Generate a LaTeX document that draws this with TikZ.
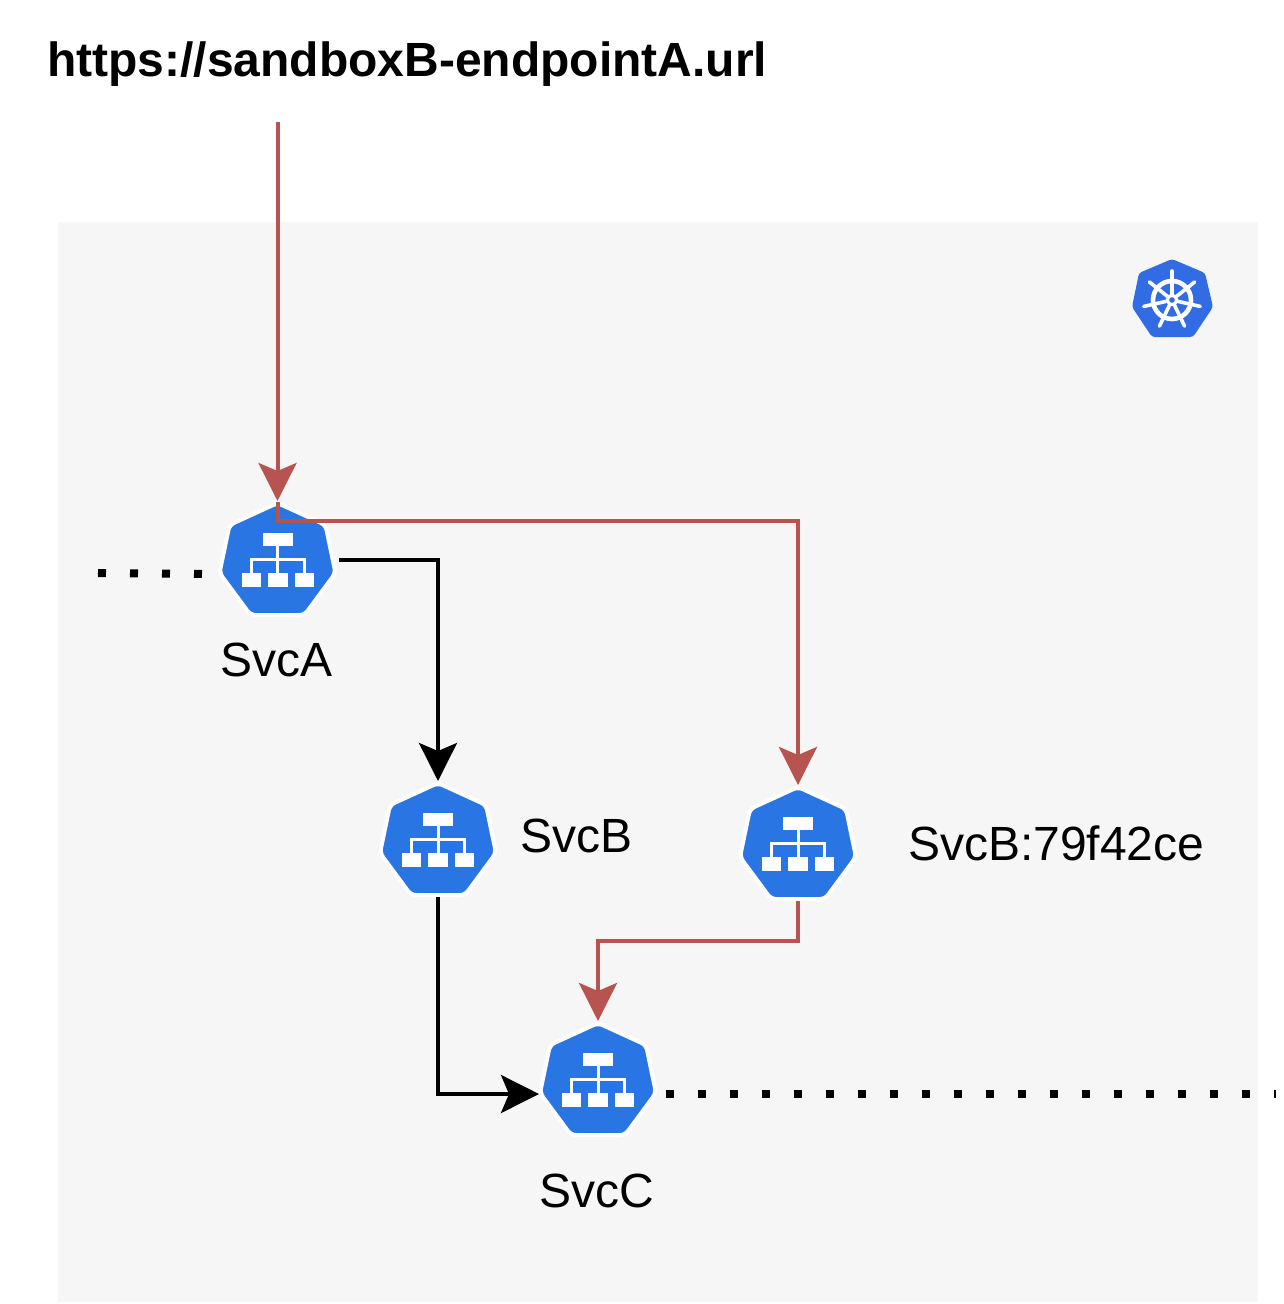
\documentclass[tikz,border=0pt]{standalone}
\usepackage{fontspec}
\setmainfont{Liberation Sans}
\usetikzlibrary{arrows.meta,calc}
\definecolor{svcblue}{HTML}{2A75E4}
\definecolor{kblue}{HTML}{326CE5}
\definecolor{redline}{HTML}{B85450}
\definecolor{panel}{HTML}{F6F6F6}
\tikzset{
  svcnode/.style={minimum width=114pt,minimum height=110pt,inner sep=0pt,outer sep=3pt},
  conn/.style={line width=4pt,-{Stealth[length=38pt,width=38pt,inset=8pt]},line join=miter},
  redconn/.style={conn,draw=redline,color=redline},
  blackconn/.style={conn,draw=black,color=black},
  dots/.style={line width=8pt,dash pattern=on 8pt off 24pt},
  lbl/.style={inner sep=0pt,anchor=base west,font=\fontsize{48}{58}\selectfont},
  lblc/.style={inner sep=0pt,anchor=base,font=\fontsize{48}{58}\selectfont},
}
% \svc{name}{center x}{top y}
\newcommand{\svc}[3]{%
  \begin{scope}[shift={(#2,#3)}]
    \filldraw[fill=svcblue,draw=white,line width=4pt,rounded corners=5pt]
      (0,-1) -- (48,21) -- (58,69) -- (27,111) -- (-27,111) -- (-58,69) -- (-48,21) -- cycle;
    \fill[white] (-15,29) rectangle (15,42);
    \fill[white] (-36,69) rectangle (-17,83);
    \fill[white] (-10,69) rectangle (10,83);
    \fill[white] (17,69) rectangle (36,83);
    \draw[white,line width=3pt] (0,42) -- (0,69);
    \draw[white,line width=3pt] (-26.5,69) -- (-26.5,55) -- (26.5,55) -- (26.5,69);
  \end{scope}
  \node[svcnode] (#1) at (#2,#3+55) {};
  \coordinate (#1-l) at (#2-59,#3+70);
  \coordinate (#1-r) at (#2+57,#3+69);
}
\begin{document}
\begin{tikzpicture}[x=1pt,y=-1pt]
\useasboundingbox (0,0) rectangle (1284,1304);
\fill[panel] (58,222) rectangle (1258,1302);

% kubernetes logo
\begin{scope}[shift={(1172,300)}]
  \fill[kblue,rounded corners=3pt] (0,-41) -- (33,-27) -- (41,7) -- (21,37) -- (-20,37) -- (-40,7) -- (-33,-27) -- cycle;
  \draw[white,line width=4.6pt] (0,0) circle (19);
  \fill[white] (0,0) circle (6);
  \fill[kblue] (0,0) circle (2.8);
  \foreach \a in {90,141.43,192.86,244.29,295.71,347.14,38.57}
    \draw[white,line width=3.6pt,line cap=round] ({5*cos(\a)},{-5*sin(\a)}) -- ({29*cos(\a)},{-29*sin(\a)});
\end{scope}

\svc{A}{277.5}{504}
\svc{B}{438}{784}
\svc{Bn}{798}{788}
\svc{C}{598}{1024}

\node[inner sep=0pt,anchor=base west,font=\fontsize{48}{58}\selectfont\bfseries] (title) at (47,76) {https://sandboxB-endpointA.url};
\coordinate (entry) at (277.5,122);
\node[lblc] (la) at (276.5,676) {SvcA};
\node[lbl] (lb) at (520,852) {SvcB};
\node[lbl] (lbn) at (908,860) {SvcB:79f42ce};
\node[lblc] (lc) at (596.5,1207) {SvcC};

\coordinate (dl) at (98,573);
\coordinate (dr) at (1276,1094);
\coordinate (Aturn) at (277.5,521);
\coordinate (Aout) at (277.5,502);
\coordinate (Aeast) at (339,560);

\draw[dots] (dl) -- (A-l);
\draw[dots] (666,1094) -- (dr);

\draw[redconn] (entry) -- (A.north);
\draw[redconn] (Aout) -- (Aturn) -| (Bn.north);
\draw[blackconn] (Aeast) -| (B.north);
\draw[blackconn] (B.south) |- (C-l);
\draw[redconn] (Bn.south) -- ++(0,40) -| (C.north);
\end{tikzpicture}
\end{document}
